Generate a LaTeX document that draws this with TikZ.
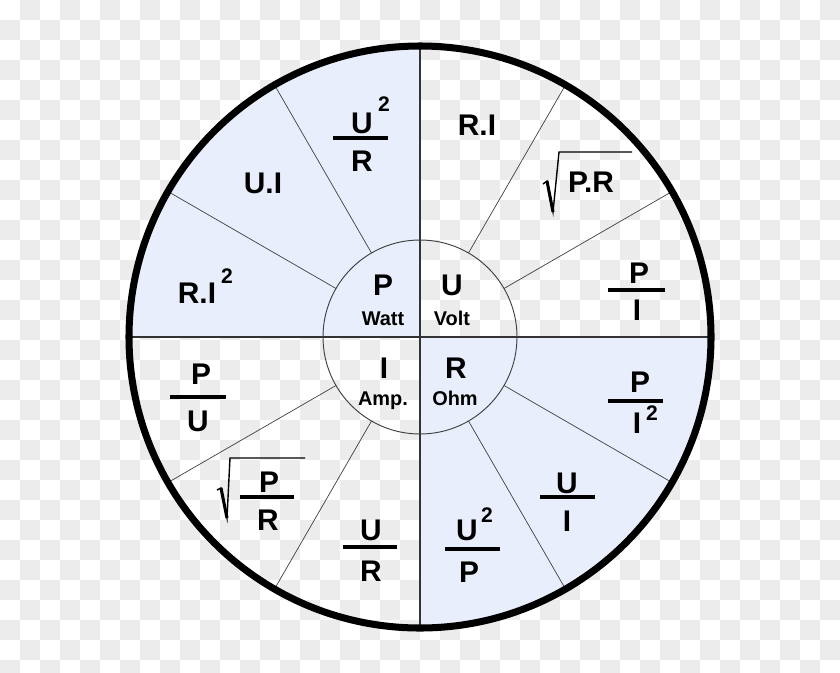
\documentclass[tikz,border=0pt]{standalone}
\usepackage{fontspec}
\setmainfont{Liberation Sans}
\usepackage{xcolor}
\definecolor{quadblue}{RGB}{232,238,251}
\definecolor{checkgray}{RGB}{236,236,236}
\tikzset{
		>=stealth
	}

\begin{document}
\begin{tikzpicture}[x=0.03cm, y=-0.03cm,
					qty/.style={font=\fontsize{25.5}{25.5}\selectfont\bfseries, inner sep=0pt, anchor=base},
					unitname/.style={font=\fontsize{17}{17}\selectfont\bfseries, inner sep=0pt, anchor=base},
					power/.style={font=\fontsize{18}{18}\selectfont\bfseries, inner sep=0pt, anchor=base},
					fracbar/.style={line width=3pt},
					spoke/.style={draw=black!75, line width=0.6pt},
					axisline/.style={draw=black!80, line width=1.3pt},
					rootsign/.style={line width=1.2pt, line join=miter},
					rootstem/.style={line width=2.6pt}]
	\useasboundingbox (0,0) rectangle (840,673);
	\begin{scope}
		\clip (0,0) rectangle (840,673);
		\foreach \i in {0,...,41}
			\foreach \j in {0,...,33}{
				\pgfmathtruncatemacro{\oddsq}{mod(\i+\j,2)}
				\ifnum\oddsq=1 \fill[checkgray] (20*\i,20*\j) rectangle ++(20,20); \fi
			}
	\end{scope}
	\coordinate (c) at (420,337);
	\begin{scope}
		\clip (c) circle[radius=291];
		\fill[quadblue] (c) rectangle (100,30);
		\fill[quadblue] (c) rectangle (740,650);
	\end{scope}
	\foreach \a in {30,60,120,150,210,240,300,330}
		\draw[spoke] (c) ++(\a:97) -- ++(\a:194);
	\draw[axisline] (c) ++(-291,0) -- ++(582,0);
	\draw[axisline] (c) ++(0,-291) -- ++(0,582);
	\draw[draw=black!75, line width=0.8pt] (c) circle[radius=97];
	\draw[line width=6pt] (c) circle[radius=291];

	\node[qty] (qP) at (383,295) {P};
	\node[unitname] (uP) at (383,325) {Watt};
	\node[qty] (qU) at (452,295) {U};
	\node[unitname] (uU) at (452,325) {Volt};
	\node[qty] (qI) at (384,378) {I};
	\node[unitname] (uI) at (383,405) {Amp.};
	\node[qty] (qR) at (456,378) {R};
	\node[unitname] (uR) at (455,405) {Ohm};

	\node[qty] (uri) at (477,135) {R.I};
	\node[qty] (upr) at (591,192) {P.R};
	\draw[rootsign] (543,184) -- (547,181) -- (553,212) -- (559,152) -- (632,152);
	\draw[rootstem] (547,181) -- (553,212);
	\node[qty] (upiN) at (639,283) {P};
	\draw[fracbar] (608,290) -- (665,290);
	\node[qty] (upiD) at (637,320) {I};

	\node[qty] (ruuN) at (362,133) {U};
	\node[power] (ruuE) at (384,111) {2};
	\draw[fracbar] (333,138) -- (388,138);
	\node[qty] (ruuD) at (362,171) {R};
	\node[qty] (pui) at (263,193) {U.I};
	\node[qty] (pri) at (197,303) {R.I};
	\node[power] (priE) at (227,283) {2};

	\node[qty] (ipuN) at (201,384) {P};
	\draw[fracbar] (170,397) -- (226,397);
	\node[qty] (ipuD) at (198,431) {U};
	\node[qty] (iprN) at (269,492) {P};
	\draw[fracbar] (240,497) -- (294,497);
	\node[qty] (iprD) at (268,530) {R};
	\draw[rootsign] (217,490) -- (221,488) -- (227,518) -- (230,458) -- (305,458);
	\draw[rootstem] (221,488) -- (227,518);
	\node[qty] (iurN) at (371,540) {U};
	\draw[fracbar] (343,547) -- (397,547);
	\node[qty] (iurD) at (371,581) {R};

	\node[qty] (rupN) at (467,540) {U};
	\node[power] (rupE) at (487,522) {2};
	\draw[fracbar] (445,549) -- (500,549);
	\node[qty] (rupD) at (469,582) {P};
	\node[qty] (ruiN) at (567,493) {U};
	\draw[fracbar] (540,497) -- (595,497);
	\node[qty] (ruiD) at (567,531) {I};
	\node[qty] (rpiN) at (640,392) {P};
	\draw[fracbar] (608,401) -- (663,401);
	\node[qty] (rpiD) at (637,433) {I};
	\node[power] (rpiE) at (652,420) {2};
\end{tikzpicture}
\end{document}
